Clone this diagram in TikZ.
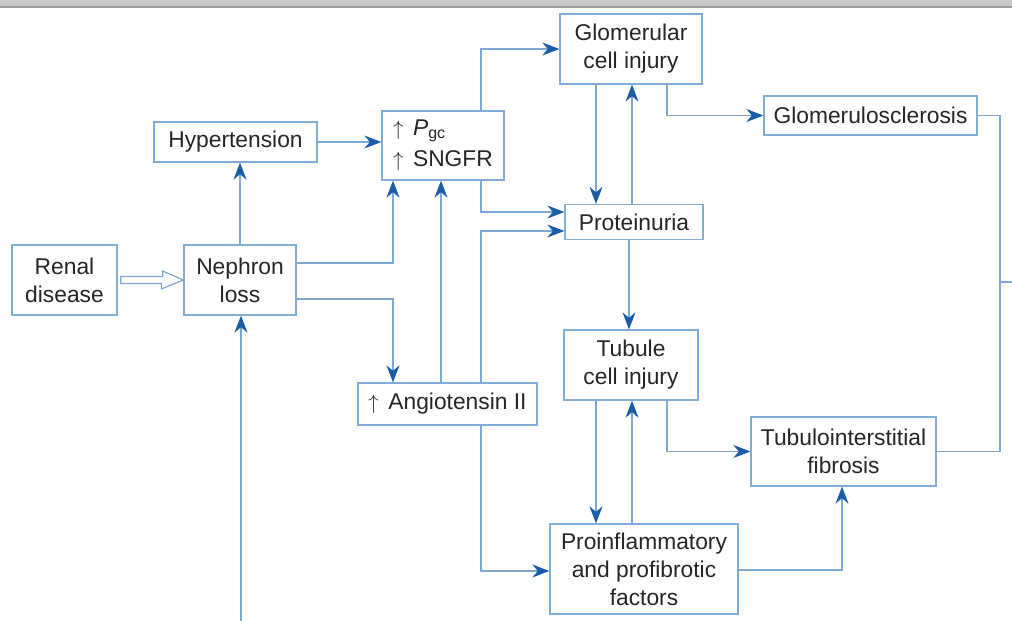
\documentclass[tikz,border=0pt]{standalone}
\usepackage{fontspec}
\setmainfont{Liberation Sans}
\usetikzlibrary{arrows.meta,calc}
\definecolor{boxline}{HTML}{82ADD4}
\definecolor{conn}{HTML}{7CA8D2}
\definecolor{tipblue}{HTML}{1A5DA6}
\definecolor{txt}{HTML}{262626}
\definecolor{barfill}{HTML}{CBCBCB}
\definecolor{barline}{HTML}{9A9A9A}
\newcommand{\upmark}{$\uparrow$\hspace{0.42em}}
\begin{document}
\begin{tikzpicture}[x=1pt,y=-1pt,
  box/.style={draw=boxline, line width=1.3pt, fill=white, inner sep=0pt,
    align=center, text=txt, font=\fontsize{22.8}{28}\selectfont},
  flow/.style={draw=conn, line width=1.3pt,
    -{Stealth[length=17pt,width=13pt,inset=5.5pt,color=tipblue]}},
  link/.style={draw=conn, line width=1.3pt},
  hollow/.style={draw=conn, line width=1.2pt, fill=white, line join=miter}]
\useasboundingbox (0,0) rectangle (1012,621);
\fill[white] (0,0) rectangle (1012,621);
% window bar along the top edge
\fill[barfill] (0,0) rectangle (1012,6);
\fill[barline] (0,5.5) rectangle (1012,7.5);

% boxes
\node[box, minimum width=105pt, minimum height=70pt] (renal) at (64.5,280) {Renal\\disease};
\node[box, minimum width=112pt, minimum height=70pt] (neph) at (240,280) {Nephron\\loss};
\node[box, minimum width=163pt, minimum height=40pt] (hyp) at (235.5,142) {Hypertension};
\node[box, minimum width=122pt, minimum height=69pt, align=left,
  font=\fontsize{22.8}{31}\selectfont] (pgc) at (443,145.5)
  {\upmark\textit{P}\textsubscript{gc}\\\upmark SNGFR};
\node[box, minimum width=179pt, minimum height=42pt] (ang) at (447.5,404) {\upmark Angiotensin II};
\node[box, minimum width=142pt, minimum height=70pt] (glom) at (631,49) {Glomerular\\cell injury};
\node[box, minimum width=138pt, minimum height=35pt] (prot) at (634,222) {Proteinuria};
\node[box, minimum width=134pt, minimum height=70pt] (tub) at (631,365) {Tubule\\cell injury};
\node[box, minimum width=188pt, minimum height=90pt] (pro) at (644,569)
  {Proinflammatory\\and profibrotic\\factors};
\node[box, minimum width=213pt, minimum height=39pt] (gscl) at (870.5,115.5) {Glomerulosclerosis};
\node[box, minimum width=185pt, minimum height=69pt] (tif) at (843.5,451.5) {Tubulointerstitial\\fibrosis};

% free ends
\coordinate (below) at (241,621);
\coordinate (merge) at (1000,282);
\coordinate (offpage) at (1012,282);

% hollow arrow from renal disease to nephron loss
\draw[hollow] ([xshift=3pt,yshift=3.5pt]renal.east) -- ++(42,0) -- ++(0,-5.5)
  -- (neph.west) -- ++(-22,9) -- ++(0,-5.5)
  -- ([xshift=3pt,yshift=-3.5pt]renal.east) -- cycle;

% connectors
\draw[flow] (below) -- (below |- neph.south);
\draw[flow] (neph.north) -- (neph.north |- hyp.south);
\draw[flow] (hyp.east) -- (hyp.east -| pgc.west);
\draw[flow] ([yshift=17pt]neph.east) -| (393,0 |- pgc.south);
\draw[flow] ([yshift=-19pt]neph.east) -| (393,0 |- ang.north);
\draw[flow] (441,0 |- ang.north) -- (441,0 |- pgc.south);
\draw[flow] (481,0 |- pgc.north) |- (glom.west);
\draw[flow] (481,0 |- pgc.south) |- (prot.west |- 0,212);
\draw[flow] (481,0 |- ang.north) |- (prot.west |- 0,231);
\draw[flow] (481,0 |- ang.south) |- (pro.west |- 0,571);
\draw[flow] (596,0 |- glom.south) -- (596,0 |- prot.north);
\draw[flow] (632,0 |- prot.north) -- (632,0 |- glom.south);
\draw[flow] (667,0 |- glom.south) |- (gscl.west);
\draw[flow] (629,0 |- prot.south) -- (629,0 |- tub.north);
\draw[flow] (596,0 |- tub.south) -- (596,0 |- pro.north);
\draw[flow] (632,0 |- pro.north) -- (632,0 |- tub.south);
\draw[flow] (667,0 |- tub.south) |- (tif.west);
\draw[flow] (pro.east |- 0,570) -| (842,0 |- tif.south);
\draw[link] (gscl.east) -| (merge) |- (tif.east);
\draw[link] (merge) -- (offpage);
\end{tikzpicture}
\end{document}
